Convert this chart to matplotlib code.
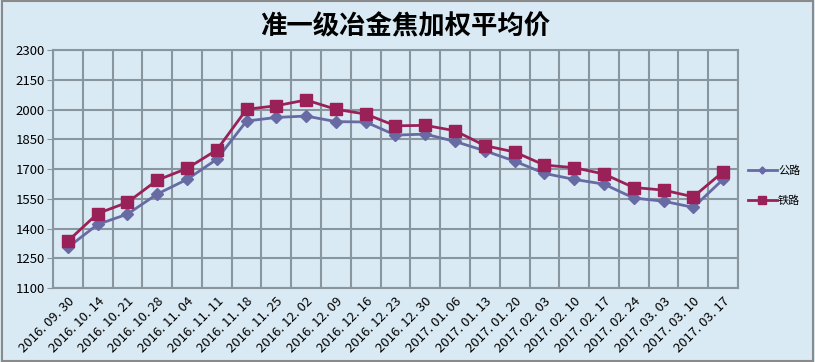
import matplotlib.pyplot as plt
from matplotlib.patches import Rectangle

plt.rcParams['font.family'] = ['Noto Sans CJK SC', 'DejaVu Sans']

dates = ['2016. 09. 30', '2016. 10. 14', '2016. 10. 21', '2016. 10. 28', '2016. 11. 04',
         '2016. 11. 11', '2016. 11. 18', '2016. 11. 25', '2016. 12. 02', '2016. 12. 09',
         '2016. 12. 16', '2016. 12. 23', '2016. 12. 30', '2017. 01. 06', '2017. 01. 13',
         '2017. 01. 20', '2017. 02. 03', '2017. 02. 10', '2017. 02. 17', '2017. 02. 24',
         '2017. 03. 03', '2017. 03. 10', '2017. 03. 17']
road = [1305, 1421, 1473, 1574, 1648, 1749, 1942, 1960, 1967, 1939, 1937, 1871,
        1876, 1839, 1792, 1740, 1678, 1648, 1624, 1554, 1538, 1507, 1648]
rail = [1337, 1476, 1532, 1644, 1703, 1796, 2001, 2019, 2048, 2001, 1977, 1918,
        1920, 1893, 1818, 1786, 1720, 1707, 1675, 1607, 1594, 1560, 1686]
yticks = [1100, 1250, 1400, 1550, 1700, 1850, 2000, 2150, 2300]

bg = '#d9eaf4'
fig = plt.figure(figsize=(8.15, 3.62), dpi=100, facecolor=bg)
fig.patches.append(Rectangle((0.002, 0.004), 0.995, 0.992, transform=fig.transFigure,
                             fill=False, edgecolor='#8a8a8a', lw=1.5))
ax = fig.add_axes([0.065, 0.204, 0.8405, 0.658])
ax.set_facecolor(bg)

x = list(range(len(dates)))
ax.plot(x, road, color='#676aa3', lw=2, marker='D', ms=6, label='公路', zorder=3)
ax.plot(x, rail, color='#9a2158', lw=2, marker='s', ms=9, label='铁路', zorder=4)

ax.set_xlim(-0.5, len(dates) - 0.5)
ax.set_ylim(1100, 2300)
ax.set_yticks(yticks)
ax.set_yticklabels([str(v) for v in yticks], fontsize=9.5)
ax.set_xticks(x)
ax.set_xticklabels(dates, rotation=45, ha='right', rotation_mode='anchor', fontsize=9.5)
ax.set_xticks([i - 0.5 for i in range(len(dates) + 1)], minor=True)
ax.tick_params(axis='x', which='both', length=0, pad=5)
ax.tick_params(axis='y', length=4, color='#8a969e', pad=2)
ax.grid(True, axis='y', color='#8a969e', lw=1.5)
ax.grid(True, axis='x', which='minor', color='#8a969e', lw=1.5)
ax.grid(False, axis='x', which='major')
ax.set_axisbelow(True)
for s in ax.spines.values():
    s.set_color('#8a969e')
    s.set_linewidth(1.5)

fig.text(0.497, 0.925, '准一级冶金焦加权平均价', ha='center', va='center',
         fontsize=19, fontweight='bold')

leg = ax.legend(loc='center left', bbox_to_anchor=(1.0, 0.43), frameon=False,
                fontsize=8, handlelength=2.6, markerscale=0.6, labelspacing=1.7,
                handletextpad=0.1)

fig.savefig('out.png', dpi=100, facecolor=bg)
